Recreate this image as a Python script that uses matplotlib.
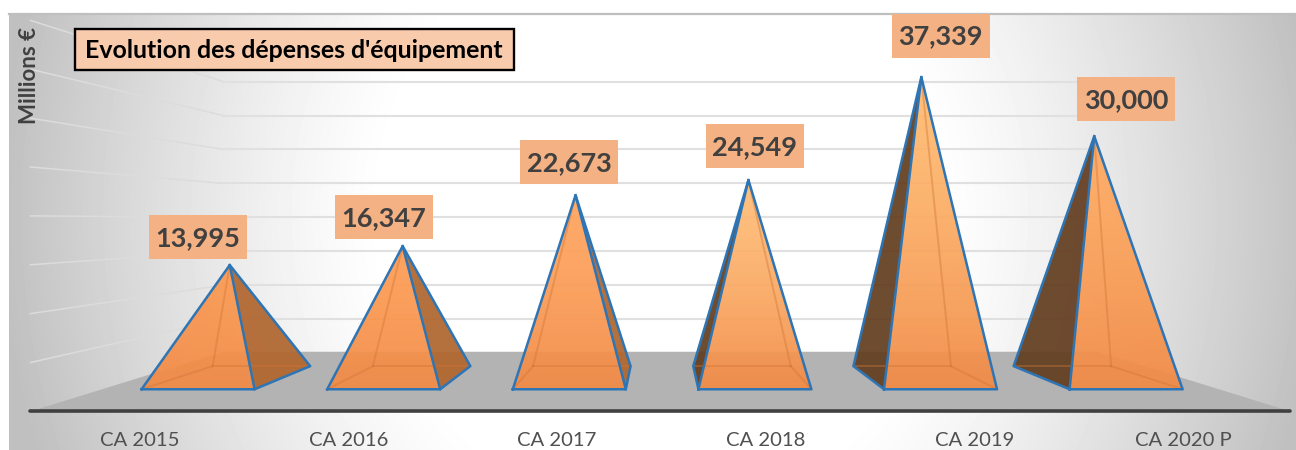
import numpy as np
import matplotlib
matplotlib.use("Agg")
import matplotlib.pyplot as plt
from matplotlib.patches import Polygon, Rectangle

categories = ["CA 2015", "CA 2016", "CA 2017", "CA 2018", "CA 2019", "CA 2020 P"]
values = [13995, 16347, 22673, 24549, 37339, 30000]
value_labels = ["13,995", "16,347", "22,673", "24,549", "37,339", "30,000"]
grid_values = [5000, 10000, 15000, 20000, 25000, 30000, 35000, 40000]
face_tops = ['#fb9850', '#fd9c54', '#ffa45e', '#ffbc76', '#ffba70', '#ffa960']
title = "Evolution des dépenses d'équipement"
unit_label = "Millions €"

W, H = 1296, 450
plt.rcParams['font.family'] = ['Lato', 'DejaVu Sans']
fig = plt.figure(figsize=(W / 100, H / 100), dpi=100)
ax = fig.add_axes([0, 0, 1, 1])

# Value plane through the pyramid apexes: category index / value axes
PX_PER_CAT, PX_PER_VAL = 172.9, 0.00805
X0_PX, V0_PX = 662.0 - 2.5 * PX_PER_CAT, 377.7
xlim = ((0 - X0_PX) / PX_PER_CAT, (W - X0_PX) / PX_PER_CAT)
ylim = ((V0_PX - H) / PX_PER_VAL, V0_PX / PX_PER_VAL)
ax.set_xlim(*xlim)
ax.set_ylim(*ylim)
ax.axis('off')
dx_px = 1 / PX_PER_CAT
dv_px = 1 / PX_PER_VAL

# Perspective about the vanishing point
XC, VC = 2.5 - 1.5 * dx_px, 19527
R_WALL_F, R_WALL_B = 1.2143, 0.8427
R_F, R_B = 1.0735, 0.9265
HALF = 0.3044


def proj(x, v, r):
    return XC + (x - XC) * r, VC + (v - VC) * r


def hexrgb(c):
    return np.array(matplotlib.colors.to_rgb(c))


# Background gradient
yy, xx = np.mgrid[0:H, 0:W] + 0.5
rr = np.sqrt(((xx - 660) / 650) ** 2 + ((yy - 215) / 700) ** 2)
t = np.clip((rr - 0.42) / (1.02 - 0.42), 0, 1)
t = t ** 1.25
bg = 1 - (1 - 0.75) * t
x_left = xlim[0] + 9 * dx_px
bg[:, :9] = 1
bg[:13, :] = 1
ax.imshow(bg, cmap='gray', vmin=0, vmax=1, extent=(*xlim, *ylim), aspect='auto',
          interpolation='bilinear', zorder=0)
ax.plot([x_left, xlim[1]], [ylim[1] - 13.5 * dv_px] * 2, color='#bfbfbf', lw=1.6, zorder=1)

# Floor
x_min_w = XC - 630 * dx_px / R_WALL_F
x_max_w = XC + 630 * dx_px / R_WALL_F
floor = [proj(x_min_w, 0, R_WALL_F), proj(x_max_w, 0, R_WALL_F),
         proj(x_max_w, 180, R_WALL_B), proj(x_min_w, 180, R_WALL_B)]
ax.add_patch(Polygon(floor, closed=True, fc='#b3b3b3', ec='none', zorder=1))

# Gridlines on left wall and back wall
for g in grid_values:
    p0 = proj(x_min_w, g, R_WALL_F)
    p1 = proj(x_min_w, g, R_WALL_B)
    p2 = proj(x_max_w, g, R_WALL_B)
    ax.plot([p0[0], p1[0]], [p0[1], p1[1]], color='#dcdcdc', lw=1.1, zorder=2)
    ax.plot([p1[0], p2[0]], [p1[1], p2[1]], color='#e0e0e0', lw=1.5, zorder=2)

# Pyramids
bottom_col = hexrgb('#f28a45')
for i, v in enumerate(values):
    fl = proj(i - HALF, 0, R_F)
    fr = proj(i + HALF, 0, R_F)
    bl = proj(i - HALF, 0, R_B)
    br = proj(i + HALF, 0, R_B)
    apex = (i, v)
    left_of_center = i < 3
    side = [fr, br, apex] if left_of_center else [fl, bl, apex]
    side_col = '#b0662e' if left_of_center else '#633e20'
    ax.add_patch(Polygon(side, closed=True, fc=side_col, ec='none', alpha=0.93, zorder=3))
    # front face: vertical colour gradient clipped to the triangle
    frac = np.linspace(0, 1, 64)[:, None, None] ** 1.5
    img = hexrgb(face_tops[i])[None, None, :] * (1 - frac) + bottom_col[None, None, :] * frac
    img = np.dstack([img, np.full(img.shape[:2], 0.93)])
    front = Polygon([fl, fr, apex], closed=True, transform=ax.transData, fc='none', ec='none')
    ax.add_patch(front)
    im = ax.imshow(img, extent=(fl[0], fr[0], fl[1], v), aspect='auto',
                   origin='upper', zorder=3.2)
    im.set_clip_path(front)
    # faint hidden edges
    bk = bl if left_of_center else br
    others = [br, fl] if left_of_center else [bl, fr]
    for b in [apex] + others:
        ax.plot([bk[0], b[0]], [bk[1], b[1]], color='#cf7435', lw=1.4, alpha=0.4, zorder=3.3)
    # edges
    ec = '#2e75b6'
    ax.plot(*zip(*[fl, apex, fr, fl]), color=ec, lw=1.8, zorder=3.5, solid_joinstyle='round')
    ax.plot(*zip(*side), color=ec, lw=1.8, zorder=3.5, solid_joinstyle='round')
    # data label
    lx, ly = proj(i, v, R_F)
    ly += 31 * dv_px
    ax.add_patch(Rectangle((lx - 49 * dx_px, ly - 22 * dv_px), 98 * dx_px, 44 * dv_px,
                           fc='#f4b183', ec='none', zorder=4.5))
    ax.text(lx, ly - 1 * dv_px, value_labels[i], ha='center', va='center',
            fontsize=19.5, fontweight='bold', color='#404040', zorder=5)

ax.set_xlim(*xlim)
ax.set_ylim(*ylim)

# Title box and unit, placed from pixel positions on the same axes


def px(x, y):
    return xlim[0] + x * dx_px, ylim[1] - y * dv_px


ax.add_patch(Rectangle(px(74.5, 70), 439 * dx_px, 41 * dv_px, fc='#f8cbad', ec='black', lw=1.7, zorder=6))
ax.text(*px(293.5, 50.5), title, ha='center', va='center', fontsize=17.9, fontweight='bold',
        color='black', zorder=7)
ax.text(*px(30, 75.5), unit_label, rotation=90, ha='center', va='center', fontsize=16,
        fontweight='bold', color='#404040', zorder=7)

# Category axis on the front edge of the floor
ax2 = fig.add_axes([30 / W, (H - 410.5) / H, 1260 / W, 0.001])
ax2.patch.set_alpha(0)
ax2.set_xlim((30 - 139.5) / 208.7, (1290 - 139.5) / 208.7)
ax2.set_yticks([])
ax2.set_xticks(range(len(categories)))
ax2.set_xticklabels(categories, fontsize=14.6, color='#505050')
ax2.tick_params(axis='x', length=0, pad=15.5)
for sp in ['top', 'left', 'right']:
    ax2.spines[sp].set_visible(False)
ax2.spines['bottom'].set_color('#404040')
ax2.spines['bottom'].set_linewidth(2.6)
ax2.spines['bottom'].set_capstyle('round')

fig.savefig('out.png', dpi=100)
